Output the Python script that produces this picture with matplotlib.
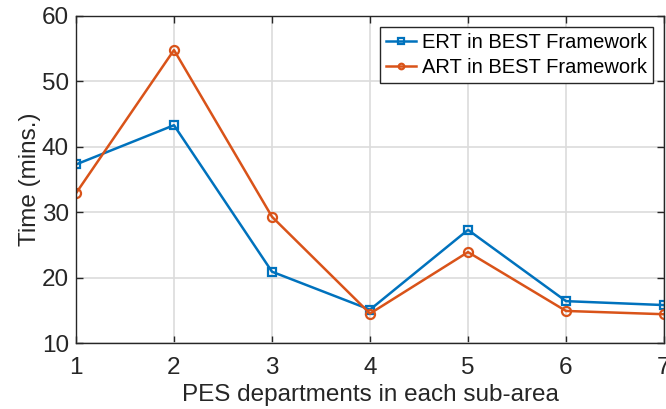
import matplotlib
matplotlib.use('Agg')
from matplotlib import pyplot as plt

plt.rcParams['font.family'] = ['Liberation Sans', 'DejaVu Sans']

departments = [1, 2, 3, 4, 5, 6, 7]
ert_best = [37.3, 43.3, 20.9, 15.1, 27.3, 16.4, 15.8]
art_best = [32.9, 54.8, 29.3, 14.5, 23.9, 14.9, 14.4]

fig = plt.figure(figsize=(6.66, 4.09), dpi=100)
ax = fig.add_axes([76 / 666, 66 / 409, 588 / 666, 327 / 409])

ax.plot(departments, ert_best, color='#0072BD', lw=1.8, marker='s', ms=6,
        mfc='none', mew=1.6, label='ERT in BEST Framework')
ax.plot(departments, art_best, color='#D95319', lw=1.8, marker='o', ms=6.5,
        mfc='none', mew=1.6, label='ART in BEST Framework')

ax.set_xlim(1, 7)
ax.set_ylim(10, 60)
ax.set_xticks(departments)
ax.set_yticks([10, 20, 30, 40, 50, 60])
ax.grid(True, color='#dcdcdc', lw=1.2)
ax.tick_params(direction='in', top=True, right=True, labelsize=17.5,
               colors='#262626', length=5, width=1, pad=5)
ax.tick_params(axis='x', pad=10)
for s in ax.spines.values():
    s.set_color('#262626')
    s.set_linewidth(1)
ax.set_xlabel('PES departments in each sub-area', fontsize=17.5, color='#262626', labelpad=4)
ax.set_ylabel('Time (mins.)', fontsize=17.5, color='#262626', labelpad=1)

leg = ax.legend(loc='upper right', fontsize=14.5, fancybox=False, framealpha=1,
                edgecolor='#262626', borderpad=0.3, handlelength=1.5,
                handletextpad=0.3, labelspacing=0.3, borderaxespad=0.55)
leg.get_frame().set_linewidth(1)
for h in leg.legend_handles:
    h.set_markersize(4)

plt.savefig('out.png', dpi=100)
